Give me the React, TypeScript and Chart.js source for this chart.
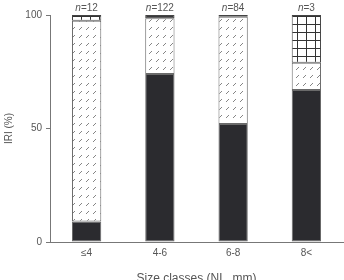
import React, { useEffect, useRef } from "react";
import { Chart, registerables } from "chart.js";

Chart.register(...registerables);

// Size classes and sample sizes
const categories = ["≤4", "4-6", "6-8", "8<"];
const sampleSizes = ["12", "122", "84", "3"];

// IRI (%) per prey group, stacked to 100
const solidVals = [9, 74, 52, 67];
const slashVals = [88.5, 24.6, 47.2, 12];
const gridVals = [2.5, 0, 0, 21];
const darkVals = [0, 1.4, 0.8, 0];

function slashPattern(): CanvasPattern | string {
  const c = document.createElement("canvas");
  c.width = 7;
  c.height = 8;
  const g = c.getContext("2d");
  if (!g) return "#fff";
  g.fillStyle = "#ffffff";
  g.fillRect(0, 0, 7, 8);
  g.strokeStyle = "#858585";
  g.lineWidth = 1;
  g.beginPath();
  g.moveTo(2, 6);
  g.lineTo(5, 3);
  g.stroke();
  return g.createPattern(c, "repeat") || "#fff";
}

function gridPattern(): CanvasPattern | string {
  const c = document.createElement("canvas");
  c.width = 9;
  c.height = 8;
  const g = c.getContext("2d");
  if (!g) return "#fff";
  g.fillStyle = "#ffffff";
  g.fillRect(0, 0, 9, 8);
  g.fillStyle = "#333333";
  g.fillRect(0, 0, 1, 8);
  g.fillRect(0, 0, 9, 1);
  return g.createPattern(c, "repeat") || "#fff";
}

const FONT = "'Liberation Sans', Arial, sans-serif";

const sampleSizePlugin = {
  id: "sampleSizes",
  afterDraw(chart: any) {
    const { ctx, chartArea, scales } = chart;
    ctx.save();
    ctx.fillStyle = "#555";
    ctx.textBaseline = "alphabetic";
    sampleSizes.forEach((n, i) => {
      const cx = scales.x.getPixelForValue(i);
      const y = chartArea.top - 4;
      ctx.font = `italic 10px ${FONT}`;
      const wN = ctx.measureText("n").width;
      ctx.font = `10px ${FONT}`;
      const rest = "=" + n;
      const wR = ctx.measureText(rest).width;
      const x0 = cx - (wN + wR) / 2;
      ctx.font = `italic 10px ${FONT}`;
      ctx.textAlign = "left";
      ctx.fillText("n", x0, y);
      ctx.font = `10px ${FONT}`;
      ctx.fillText(rest, x0 + wN, y);
    });
    ctx.restore();
  },
};

export default function App() {
  const ref = useRef<HTMLCanvasElement | null>(null);

  useEffect(() => {
    if (!ref.current) return;
    const border = "#6a6a6a";
    const common = {
      borderColor: border,
      borderWidth: 1,
      borderSkipped: false as const,
      barPercentage: 0.8,
      categoryPercentage: 0.5,
    };
    const chart = new Chart(ref.current, {
      type: "bar",
      data: {
        labels: categories,
        datasets: [
          { label: "solid", data: solidVals, backgroundColor: "#2b2b2f", ...common },
          { label: "slash", data: slashVals, backgroundColor: slashPattern() as any, ...common },
          { label: "grid", data: gridVals, backgroundColor: gridPattern() as any, ...common, borderColor: "#444" },
          { label: "dark", data: darkVals, backgroundColor: "#3a3a3c", ...common, borderColor: "#444" },
        ],
      },
      options: {
        responsive: false,
        animation: false,
        layout: { padding: { top: 15, right: 1, left: 0, bottom: 0 } },
        plugins: { legend: { display: false }, tooltip: { enabled: false } },
        scales: {
          x: {
            stacked: true,
            grid: { display: true, drawOnChartArea: false, drawTicks: false },
            border: { display: true, color: "#777", width: 1 },
            ticks: { color: "#555", font: { family: FONT, size: 10 }, padding: 5 },
            title: {
              display: true,
              text: "Size classes (NL, mm)",
              color: "#555",
              font: { family: FONT, size: 12 },
              padding: { top: 10, bottom: 6 },
            },
            afterFit: (s: any) => {
              s.height = 50;
            },
          },
          y: {
            stacked: true,
            min: 0,
            max: 100,
            ticks: { stepSize: 50, color: "#555", font: { family: FONT, size: 10 }, padding: 4 },
            grid: { display: true, drawOnChartArea: false, drawTicks: true, tickLength: 4, color: "#777" },
            border: { display: true, color: "#777", width: 1 },
            title: {
              display: true,
              text: "IRI (%)",
              color: "#555",
              font: { family: FONT, size: 10 },
              padding: { top: 3, bottom: 0 },
            },
            afterFit: (s: any) => {
              s.width = 50;
            },
          },
        },
      },
      plugins: [sampleSizePlugin],
    });
    return () => chart.destroy();
  }, []);

  return (
    <div style={{ position: "fixed", left: 0, top: 0, width: 344, height: 292, background: "#fff" }}>
      <canvas ref={ref} width={344} height={292} style={{ width: 344, height: 292 }} />
    </div>
  );
}
